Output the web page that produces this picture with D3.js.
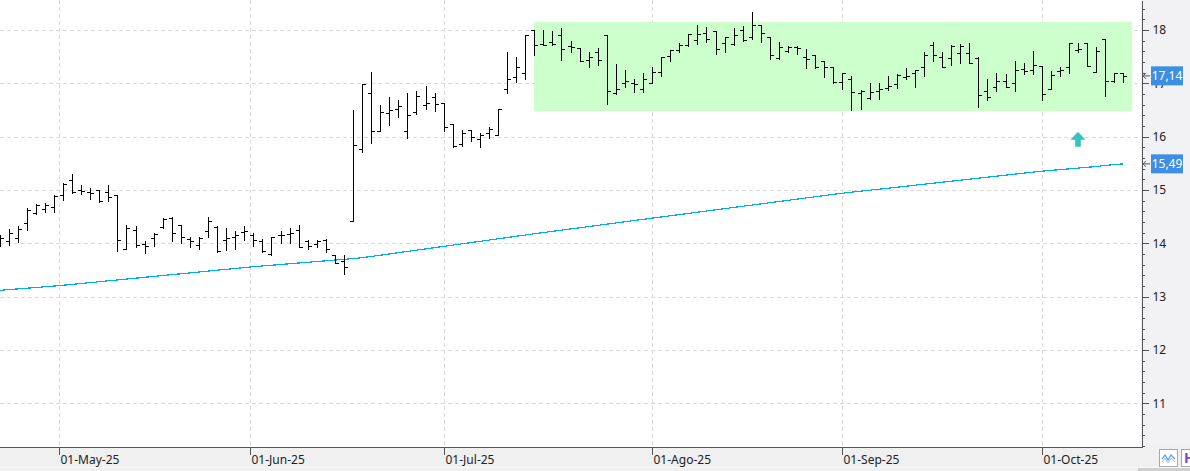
<!DOCTYPE html>
<html><head><meta charset="utf-8">
<script src="https://cdn.jsdelivr.net/npm/d3@7"></script>
<style>
html,body{margin:0;padding:0;background:#fff;overflow:hidden;}
svg{display:block;font-family:"Segoe UI","Noto Sans",sans-serif;}
</style></head>
<body><svg id="chart" width="1190" height="471"></svg>
<script>
// ---------- DATA ----------
const dates = [
"2025-04-22","2025-04-23","2025-04-24","2025-04-25","2025-04-28","2025-04-29","2025-04-30",
"2025-05-02","2025-05-05","2025-05-06","2025-05-07","2025-05-08","2025-05-09","2025-05-12","2025-05-13","2025-05-14","2025-05-15","2025-05-16","2025-05-19","2025-05-20","2025-05-21","2025-05-22","2025-05-23","2025-05-26","2025-05-27","2025-05-28","2025-05-29","2025-05-30",
"2025-06-02","2025-06-03","2025-06-04","2025-06-05","2025-06-06","2025-06-09","2025-06-10","2025-06-11","2025-06-12","2025-06-13","2025-06-16","2025-06-17","2025-06-18","2025-06-19","2025-06-20","2025-06-23","2025-06-24","2025-06-25","2025-06-26","2025-06-27","2025-06-30",
"2025-07-01","2025-07-02","2025-07-03","2025-07-04","2025-07-07","2025-07-08","2025-07-09","2025-07-10","2025-07-11","2025-07-14","2025-07-15","2025-07-16","2025-07-17","2025-07-18","2025-07-21","2025-07-22","2025-07-23","2025-07-24","2025-07-25","2025-07-28","2025-07-29","2025-07-30","2025-07-31",
"2025-08-01","2025-08-04","2025-08-05","2025-08-06","2025-08-07","2025-08-08","2025-08-11","2025-08-12","2025-08-13","2025-08-14","2025-08-15","2025-08-18","2025-08-19","2025-08-20","2025-08-21","2025-08-22","2025-08-25","2025-08-26","2025-08-27","2025-08-28","2025-08-29",
"2025-09-01","2025-09-02","2025-09-03","2025-09-04","2025-09-05","2025-09-08","2025-09-09","2025-09-10","2025-09-11","2025-09-12","2025-09-15","2025-09-16","2025-09-17","2025-09-18","2025-09-19","2025-09-22","2025-09-23","2025-09-24","2025-09-25","2025-09-26","2025-09-29","2025-09-30",
"2025-10-01","2025-10-02","2025-10-03","2025-10-06","2025-10-07","2025-10-08","2025-10-09","2025-10-10","2025-10-13","2025-10-14"
];
const opens = [
14.00,14.05,14.10,14.39,14.57,14.64,14.68,
14.90,15.19,15.00,14.96,15.00,14.96,14.91,13.90,14.25,13.99,14.10,14.30,14.47,14.34,14.08,13.97,14.24,14.31,14.06,14.12,14.22,
14.16,14.05,13.80,14.15,14.18,14.25,14.05,13.98,14.06,13.79,13.67,14.42,15.76,16.81,16.11,16.44,16.52,16.10,16.46,16.59,16.74,
16.64,16.23,15.86,16.12,15.95,16.07,16.03,16.90,17.11,17.19,18.00,17.74,17.77,17.91,17.70,17.66,17.43,17.58,17.91,16.81,17.00,17.01,16.90,
17.01,17.22,17.51,17.62,17.72,17.82,17.94,17.98,17.76,17.74,18.00,17.86,18.09,17.86,17.47,17.60,17.68,17.50,17.53,17.41,17.30,
17.03,17.09,16.81,16.72,16.86,16.92,16.99,17.11,17.19,17.30,17.72,17.49,17.47,17.56,17.56,17.47,16.85,16.93,17.05,17.01,17.26,17.25,
17.32,16.89,17.24,17.30,17.62,17.75,17.22,17.84,17.05,17.20
];
const highs = [
14.16,14.26,14.32,14.66,14.74,14.76,14.91,
15.14,15.30,15.09,15.03,15.00,15.09,14.91,14.35,14.32,14.04,14.20,14.48,14.49,14.34,14.11,14.11,14.49,14.32,14.28,14.24,14.32,
14.20,14.09,14.12,14.23,14.28,14.34,14.06,14.06,14.09,13.79,13.78,16.50,16.99,17.21,16.59,16.74,16.69,16.81,16.86,16.95,16.81,
16.64,16.23,16.12,16.12,16.07,16.19,16.51,17.59,17.49,17.91,18.00,18.00,17.99,18.03,17.80,17.66,17.58,17.66,17.91,17.36,17.25,17.09,17.19,
17.31,17.49,17.63,17.75,17.92,18.09,18.06,17.98,17.86,18.03,18.08,18.33,18.09,17.86,17.78,17.70,17.70,17.64,17.53,17.41,17.30,
17.20,17.14,16.88,17.01,17.00,17.14,17.18,17.28,17.25,17.59,17.78,17.58,17.72,17.74,17.75,17.49,17.09,17.19,17.18,17.41,17.38,17.61,
17.33,17.24,17.30,17.75,17.75,17.75,17.68,17.84,17.20,17.20
];
const lows = [
13.95,13.97,14.03,14.25,14.55,14.59,14.59,
14.81,14.95,14.93,14.84,14.78,14.80,13.86,13.89,13.93,13.82,13.95,14.28,14.05,14.00,13.93,13.89,14.11,13.84,13.88,13.89,14.06,
13.95,13.84,13.79,14.00,14.01,13.93,13.89,13.93,13.84,13.63,13.42,14.42,15.72,15.89,16.11,16.22,16.37,15.98,16.42,16.52,16.49,
16.11,15.80,15.82,15.92,15.81,15.98,16.03,16.82,17.03,17.09,17.54,17.72,17.71,17.43,17.59,17.41,17.31,17.34,16.61,16.80,16.94,16.83,16.84,
17.01,17.13,17.41,17.58,17.70,17.73,17.77,17.55,17.59,17.72,17.80,17.83,17.78,17.45,17.45,17.59,17.55,17.28,17.28,17.11,17.00,
16.89,16.50,16.51,16.70,16.70,16.88,16.91,17.09,16.93,17.14,17.41,17.30,17.34,17.38,17.38,16.55,16.68,16.85,16.93,16.85,17.18,17.18,
16.68,16.89,17.14,17.19,17.58,17.33,17.22,16.76,17.03,17.03
];
const closes = [
14.10,14.20,14.27,14.62,14.72,14.72,14.88,
15.12,14.97,14.98,14.94,14.80,14.86,14.07,14.28,13.96,13.95,14.18,14.46,14.20,14.11,14.05,14.10,14.41,13.86,14.10,14.15,14.24,
14.06,13.86,14.12,14.16,14.20,13.94,13.95,14.04,13.90,13.64,13.55,15.84,16.99,16.10,16.47,16.50,16.58,16.40,16.76,16.63,16.61,
16.18,15.83,16.07,15.99,16.03,16.14,16.51,17.08,17.30,17.91,17.71,17.72,17.73,17.64,17.68,17.41,17.49,17.43,16.86,16.89,17.05,16.99,17.09,
17.22,17.49,17.63,17.72,17.92,17.92,17.84,17.64,17.86,17.91,17.81,18.09,17.94,17.53,17.69,17.69,17.66,17.45,17.30,17.30,17.03,
17.20,16.83,16.86,16.83,16.89,16.95,17.16,17.14,17.25,17.53,17.54,17.31,17.70,17.70,17.38,16.78,16.74,17.05,16.94,17.25,17.24,17.34,
16.80,17.16,17.25,17.75,17.64,17.33,17.61,17.05,17.20,17.14
];
const maValues = [
13.118,13.132,13.145,13.158,13.172,13.185,13.199,
13.214,13.230,13.247,13.263,13.280,13.297,13.313,13.330,13.346,13.363,13.380,13.396,13.413,13.429,13.446,13.463,13.479,13.496,13.512,13.529,13.546,
13.561,13.575,13.589,13.603,13.617,13.631,13.645,13.658,13.672,13.686,13.700,13.714,13.730,13.754,13.777,13.801,13.825,13.848,13.872,13.895,13.919,
13.943,13.966,13.990,14.014,14.037,14.061,14.085,14.108,14.132,14.155,14.179,14.202,14.224,14.247,14.269,14.292,14.314,14.337,14.359,14.382,14.404,14.427,14.449,
14.472,14.494,14.516,14.539,14.561,14.583,14.606,14.628,14.650,14.672,14.695,14.717,14.739,14.762,14.784,14.806,14.829,14.851,14.873,14.895,14.918,
14.939,14.958,14.977,14.996,15.014,15.033,15.052,15.071,15.090,15.109,15.127,15.146,15.165,15.184,15.203,15.222,15.240,15.259,15.278,15.297,15.316,15.335,
15.352,15.367,15.382,15.396,15.411,15.426,15.440,15.460,15.475,15.490
];
const yTickValues = [11,12,13,14,15,16,17,18];
const monthTickDates = ["2025-05-01","2025-06-01","2025-07-01","2025-08-01","2025-09-01","2025-10-01"];
const monthTickLabels = ["01-May-25","01-Jun-25","01-Jul-25","01-Ago-25","01-Sep-25","01-Oct-25"];
const zoneDates = ["2025-07-15","2025-10-15"];
const zonePrices = [16.49, 18.15];
const signalDate = "2025-10-07";
const signalPrice = 16.09;

// ---------- LAYOUT ----------
const W = 1190, H = 471;
const plotR = 1141, plotB = 447;
const svg = d3.select("#chart");

const x = d3.scalePoint().domain(dates).range([-0.372, 1123.316]);
const step = x.step();
const y = d3.scaleLinear().domain([10.181, 18.5625]).range([plotB, 0]);

const parse = d3.utcParse("%Y-%m-%d");
const dayMs = 864e5;
function xPos(ds) {
  const i = dates.indexOf(ds);
  if (i >= 0) return x(ds);
  const t = parse(ds);
  const ts = dates.map(parse);
  let k = d3.bisectRight(ts, t) - 1;
  if (k < 0) return x(dates[0]) - step * (ts[0] - t) / dayMs;
  if (k >= ts.length - 1) return x(dates[ts.length - 1]) + step * (t - ts[ts.length - 1]) / dayMs;
  const frac = (t - ts[k]) / (ts[k + 1] - ts[k]);
  return x(dates[k]) + frac * step;
}

// backgrounds
svg.append("rect").attr("x",0).attr("y",0).attr("width",W).attr("height",H).attr("fill","#fff");
svg.append("rect").attr("x",plotR).attr("y",0).attr("width",W-plotR).attr("height",plotB).attr("fill","#f2f2f4");
svg.append("rect").attr("x",0).attr("y",plotB).attr("width",W).attr("height",H-plotB).attr("fill","#f0f0f0");
svg.append("rect").attr("x",0).attr("y",467).attr("width",W).attr("height",1).attr("fill","#fafafa");
svg.append("rect").attr("x",1138).attr("y",468).attr("width",52).attr("height",3).attr("fill","#cfcfcf");

svg.append("defs").append("clipPath").attr("id","plotclip")
  .append("rect").attr("x",0).attr("y",0).attr("width",plotR).attr("height",plotB);
const plot = svg.append("g").attr("clip-path","url(#plotclip)");

// grid
plot.selectAll("line.hg").data(yTickValues).join("line")
  .attr("x1",0).attr("x2",plotR)
  .attr("y1",d=>Math.round(y(d))+0.5).attr("y2",d=>Math.round(y(d))+0.5)
  .attr("stroke","#dadada").attr("stroke-dasharray","4,3");
plot.selectAll("line.vg").data(monthTickDates).join("line")
  .attr("x1",d=>Math.round(xPos(d))+0.5).attr("x2",d=>Math.round(xPos(d))+0.5)
  .attr("y1",0).attr("y2",plotB)
  .attr("stroke","#dadada").attr("stroke-dasharray","4,3");

// zone
const zx0 = xPos(zoneDates[0]), zx1 = xPos(zoneDates[1]);
plot.append("rect")
  .attr("x",Math.round(zx0)).attr("width",Math.round(zx1)-Math.round(zx0))
  .attr("y",Math.round(y(zonePrices[1]))).attr("height",Math.round(y(zonePrices[0]))-Math.round(y(zonePrices[1])))
  .attr("fill","#ccffcc");

// MA line
const maData = dates.map((d,i)=>({d, v: maValues[i]}));
plot.append("path").datum(maData)
  .attr("d", d3.line().x(p=>x(p.d)).y(p=>y(p.v)))
  .attr("fill","none").attr("stroke","#00aeef").attr("stroke-width",1.2)
  .attr("shape-rendering","crispEdges");

// OHLC bars
const bars = dates.map((d,i)=>({d,o:opens[i],h:highs[i],l:lows[i],c:closes[i]}));
plot.selectAll("path.bar").data(bars).join("path")
  .attr("d", b=>{
    const px = Math.round(x(b.d)) + 0.5;
    const yh = Math.round(y(b.h)), yl = Math.round(y(b.l));
    const yo = Math.round(y(b.o)) + 0.5, yc = Math.round(y(b.c)) + 0.5;
    return `M${px},${yh}V${yl+1}M${px-3.5},${yo}H${px}M${px},${yc}H${px+3.5}`;
  })
  .attr("fill","none").attr("stroke","#000").attr("stroke-width",1)
  .attr("shape-rendering","crispEdges");

// signal arrow
const ax = xPos(signalDate), ay = y(signalPrice);
plot.append("path")
  .attr("d", `M${ax},${ay}L${ax+7.5},${ay+8}H${ax+2.8}V${ay+15}H${ax-2.8}V${ay+8}H${ax-7.5}Z`)
  .attr("fill","#34c3bd");

// y axis
const minorTicks = d3.range(10.2, 18.61, 0.2).filter(v => Math.abs(v - Math.round(v)) > 0.01);
const gyMinor = svg.append("g").attr("transform",`translate(${plotR+0.5},0)`)
  .call(d3.axisRight(y).tickValues(minorTicks).tickSize(3).tickSizeOuter(0).tickFormat(""));
const gy = svg.append("g").attr("transform",`translate(${plotR+0.5},0)`)
  .call(d3.axisRight(y).tickValues(yTickValues).tickSize(7).tickSizeOuter(0).tickPadding(4).tickFormat(d=>d));
[gy, gyMinor].forEach(g=>{
  g.selectAll("path.domain").attr("stroke","#555").attr("shape-rendering","crispEdges");
  g.selectAll(".tick line").attr("stroke","#555").attr("shape-rendering","crispEdges");
});
gy.selectAll(".tick text").attr("fill","#222").style("font-size","12px")
  .style("font-family",'"Segoe UI","Noto Sans",sans-serif');

// x axis
svg.append("line").attr("x1",0).attr("x2",plotR+1).attr("y1",plotB+0.5).attr("y2",plotB+0.5)
  .attr("stroke","#555").attr("shape-rendering","crispEdges");
const gx = svg.append("g");
monthTickDates.forEach((d,i)=>{
  const px = Math.round(xPos(d)) + 0.5;
  gx.append("line").attr("x1",px).attr("x2",px).attr("y1",plotB).attr("y2",plotB+8)
    .attr("stroke","#555").attr("shape-rendering","crispEdges");
  gx.append("text").attr("x",px+1).attr("y",464).attr("fill","#222")
    .style("font-size","12px").text(monthTickLabels[i]);
});

// price tags
function priceTag(v, label) {
  const py = y(v);
  const g = svg.append("g");
  g.append("path").attr("d",`M${plotR+9},${py}H${plotR+2}M${plotR+5},${py-3}L${plotR+2},${py}L${plotR+5},${py+3}`)
    .attr("stroke","#555").attr("fill","none");
  g.append("rect").attr("x",1151).attr("y",py-9.5).attr("width",32).attr("height",19).attr("fill","#3d8fe3");
  g.append("text").attr("x",1167).attr("y",py+4.3).attr("text-anchor","middle")
    .attr("fill","#fff").style("font-size","12px").text(label);
}
const fmt = v => d3.format(".2f")(v).replace(".", ",");
priceTag(closes[closes.length-1], fmt(closes[closes.length-1]));
priceTag(maValues[maValues.length-1], fmt(maValues[maValues.length-1]));

// bottom-right buttons
svg.append("rect").attr("x",1159.5).attr("y",449.5).attr("width",18).attr("height",17)
  .attr("fill","#fff").attr("stroke","#a8a8a8");
svg.append("path").attr("d","M1162,459L1165,455L1168,460L1171,455L1175,459")
  .attr("fill","none").attr("stroke","#5a9bd8").attr("stroke-width",1.2);
svg.append("path").attr("d","M1162,462L1165,458L1168,463L1171,458L1175,462")
  .attr("fill","none").attr("stroke","#9cc3ea").attr("stroke-width",1);
svg.append("rect").attr("x",1181.5).attr("y",449.5).attr("width",18).attr("height",17)
  .attr("fill","#fff").attr("stroke","#a8a8a8");
svg.append("text").attr("x",1184).attr("y",463).attr("fill","#7b45c8")
  .style("font-size","14px").style("font-weight","bold").text("H");
</script>
</body></html>
